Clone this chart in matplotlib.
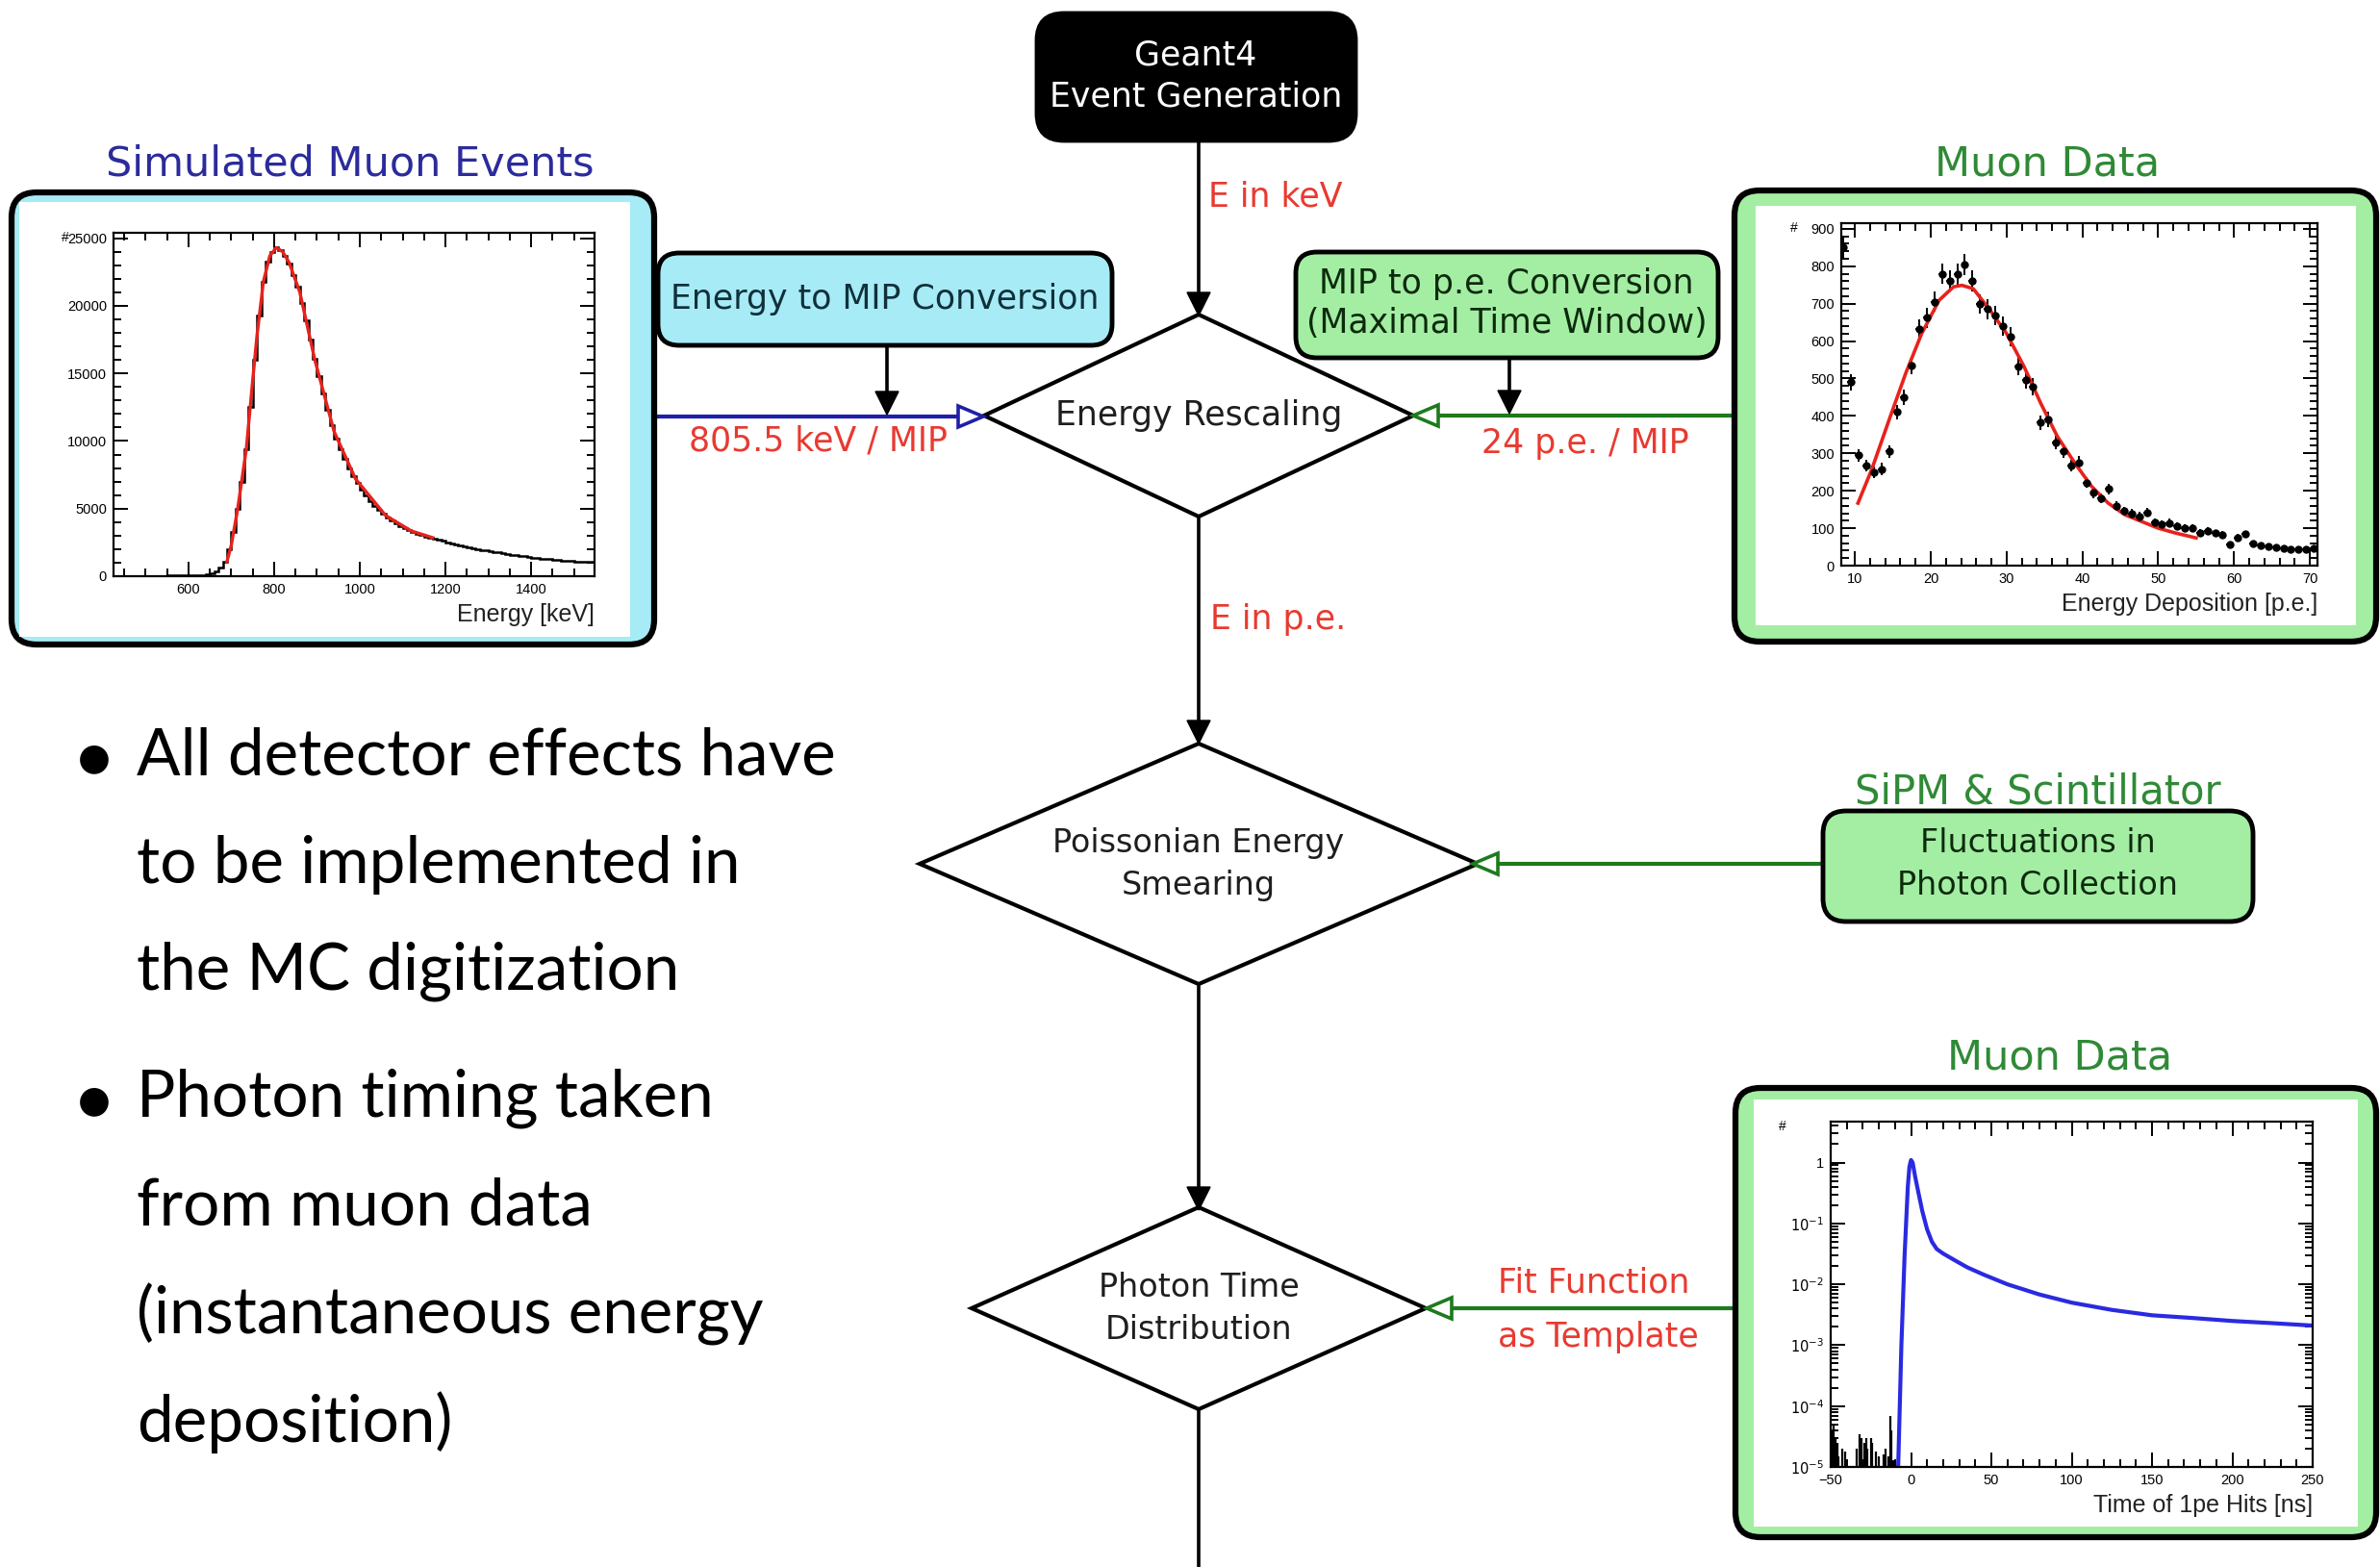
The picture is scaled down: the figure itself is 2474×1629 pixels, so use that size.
import numpy as np
import matplotlib
matplotlib.use('agg')
import matplotlib.pyplot as plt
from matplotlib.patches import FancyBboxPatch, Polygon, Rectangle
from matplotlib.ticker import MultipleLocator, LogLocator, NullFormatter, FixedLocator, FixedFormatter

W, H = 2474, 1629

# Simulated muon energy deposition (keV), 10 keV bins starting at 420 keV
sim_counts = [0, 0, 0, 0, 0, 0, 0, 0, 0, 0, 0, 0,
              30, 40, 40, 50, 50, 60, 60, 70, 80, 90, 110, 180, 350, 650,
              1100, 2000, 3300, 5000, 7000, 9400, 12500, 16000, 19300, 21800,
              23300, 24000, 24300, 24100, 23700, 23100, 22300, 21400, 20200,
              18900, 17500, 16100, 14800, 13500, 12300, 11200, 10200, 9400,
              8700, 8000, 7400, 6900, 6400, 5950, 5550, 5200, 4900, 4600,
              4350, 4100, 3900, 3700, 3550, 3400, 3250, 3150, 3050, 2950,
              2880, 2800, 2700, 2600, 2500, 2430, 2350, 2280, 2200, 2130,
              2060, 2000, 1950, 1900, 1850, 1800, 1750, 1700, 1650, 1600,
              1550, 1500, 1460, 1420, 1380, 1350, 1310, 1280, 1250, 1220,
              1190, 1170, 1140, 1120, 1100, 1090, 1070, 1060, 1050, 1040]
sim_fit_x = [690, 700, 715, 735, 750, 760, 775, 790, 805, 820, 835, 860,
             895, 940, 990, 1060, 1120, 1170]
sim_fit_y = [1100, 2300, 5000, 9400, 14500, 17800, 21800, 23700, 24300,
             24000, 23200, 21000, 16000, 10700, 7200, 4500, 3350, 2850]

# Muon data, energy deposition in p.e.
dep_x = np.arange(8.5, 71, 1.0)
dep_y = [850, 490, 295, 268, 250, 258, 305, 410, 450, 535, 632, 662, 705,
         780, 762, 778, 805, 760, 700, 685, 668, 640, 612, 532, 495, 478,
         382, 390, 330, 305, 268, 275, 222, 195, 180, 205, 160, 146, 140,
         132, 142, 115, 110, 114, 106, 100, 100, 88, 92, 87, 83, 57, 75, 84,
         58, 53, 52, 48, 47, 44, 43, 43, 46]
dep_err = [29, 22, 17, 16, 16, 16, 17, 20, 21, 23, 25, 26, 27, 28, 28, 28,
           28, 28, 26, 26, 26, 25, 25, 23, 22, 22, 20, 20, 18, 17, 16, 17,
           15, 14, 13, 14, 13, 12, 12, 11, 12, 11, 10, 11, 10, 10, 10, 9, 10,
           9, 9, 8, 9, 9, 8, 7, 7, 7, 7, 7, 7, 7, 7]
dep_fit_x = [10.4, 12.2, 14.5, 16.7, 18.8, 21.1, 23.0, 24.1, 25.6, 27.8,
             30.0, 32.3, 34.5, 36.7, 39.0, 41.2, 43.4, 45.6, 47.8, 50.0,
             52.3, 55.0]
dep_fit_y = [167, 256, 389, 514, 620, 709, 745, 749, 740, 683, 620, 532,
             434, 345, 274, 212, 167, 136, 118, 100, 87, 74]

# Muon data, photon arrival time of 1 p.e. hits (ns)
time_x = [-8, -6, -4, -2, -1, 0, 1, 2.5, 4.5, 7, 10, 13, 16, 20, 27, 35, 45,
          60, 80, 100, 125, 150, 175, 200, 225, 250]
time_y = [1e-5, 1e-3, 0.03, 0.4, 0.85, 1.1, 1.0, 0.6, 0.33, 0.16, 0.08,
          0.05, 0.038, 0.032, 0.025, 0.019, 0.0145, 0.0100, 0.0068, 0.0050,
          0.0038, 0.0031, 0.0028, 0.0025, 0.0023, 0.0021]
noise_x = [-49, -48, -47, -46, -45, -43, -41, -34, -32, -31, -29, -28, -27,
           -25, -24, -22, -20, -17, -16, -14, -13, -12, -11]
noise_y = [4e-5, 5e-5, 3e-5, 2.5e-5, 1.5e-5, 2e-5, 1.8e-5, 2e-5, 3.5e-5,
           3e-5, 2.5e-5, 3e-5, 2e-5, 3e-5, 2.5e-5, 1.8e-5, 1.5e-5, 1.6e-5,
           2e-5, 1.5e-5, 7e-5, 4e-5, 1.3e-5]

bullets = [
    ['All detector effects have', 'to be implemented in',
     'the MC digitization'],
    ['Photon timing taken', 'from muon data', '(instantaneous energy',
     'deposition)'],
]

RED = '#e83a30'
GREEN_TXT = '#2f8a35'
GREEN_LINE = '#1d7a1d'
BLUE_LINE = '#1f1fa8'
CYAN = '#a6ebf5'
LGREEN = '#a3eea3'
INK = '#1e1e1e'

fig = plt.figure(figsize=(W / 100, H / 100), dpi=100)
ax = fig.add_axes([0, 0, 1, 1])
ax.set_xlim(0, W)
ax.set_ylim(H, 0)
ax.axis('off')

FLOW = 'DejaVu Sans'
FS = 25


def rbox(x0, y0, x1, y1, fc, r=22, lw=3.5, ec='black', z=2):
    p = FancyBboxPatch((x0, y0), x1 - x0, y1 - y0,
                       boxstyle='round,pad=0,rounding_size=%d' % r,
                       fc=fc, ec=ec, lw=lw, zorder=z)
    ax.add_patch(p)


def diamond(cx, cy, hw, hh):
    pts = [(cx, cy - hh), (cx + hw, cy), (cx, cy + hh), (cx - hw, cy)]
    ax.add_patch(Polygon(pts, closed=True, fc='white', ec='black', lw=3,
                         zorder=2))


def down_arrow(x, y0, y1, lw=2.6, head=24, hw=12):
    ax.plot([x, x], [y0, y1 - head], color='black', lw=lw, zorder=1,
            solid_capstyle='butt')
    ax.add_patch(Polygon([(x - hw, y1 - head), (x + hw, y1 - head), (x, y1)],
                         closed=True, fc='black', ec='black', lw=1, zorder=3))


def open_head(tip, y, direction, color, length=26, hh=11):
    base = tip - direction * length
    ax.add_patch(Polygon([(base, y - hh), (base, y + hh), (tip, y)],
                         closed=True, fc='white', ec=color, lw=2.6, zorder=3))


def label(x, y, s, size=FS, color=INK, ha='center'):
    ax.text(x, y, s, fontsize=size, family=FLOW, ha=ha, va='center',
            color=color, zorder=4)


# Geant4 start node
rbox(1078, 14, 1409, 146, 'black', r=28)
label(1243, 57, 'Geant4', color='white')
label(1243, 100, 'Event Generation', color='white')

# main vertical chain
down_arrow(1246, 146, 328)
label(1256, 204, 'E in keV', color=RED, ha='left')
diamond(1246, 432, 223, 105)
label(1246, 432, 'Energy Rescaling')

down_arrow(1246, 537, 773)
label(1258, 644, 'E in p.e.', color=RED, ha='left')
diamond(1246, 898, 290, 125)
label(1246, 876, 'Poissonian Energy', size=24)
label(1246, 920, 'Smearing', size=24)

down_arrow(1246, 1023, 1258)
diamond(1246, 1360, 236, 105)
label(1246, 1338, 'Photon Time', size=24)
label(1246, 1382, 'Distribution', size=24)
ax.plot([1246, 1246], [1465, H + 5], color='black', lw=2.6, zorder=1)

# energy to MIP conversion branch (simulation side)
ax.plot([680, 996], [433, 433], color=BLUE_LINE, lw=3, zorder=1)
open_head(1022, 433, 1, BLUE_LINE)
rbox(684, 263, 1156, 359, CYAN, r=22)
label(920, 311, 'Energy to MIP Conversion', color='#10303a')
down_arrow(922, 359, 431)
label(850, 458, '805.5 keV / MIP', color=RED)

# MIP to p.e. conversion branch (data side)
ax.plot([1494, 1804], [432, 432], color=GREEN_LINE, lw=3, zorder=1)
open_head(1469, 432, -1, GREEN_LINE)
rbox(1347, 262, 1786, 372, LGREEN, r=22)
label(1566, 295, 'MIP to p.e. Conversion', color='#0d2a0d')
label(1566, 336, '(Maximal Time Window)', color='#0d2a0d')
down_arrow(1569, 372, 430)
label(1648, 461, '24 p.e. / MIP', color=RED)

# SiPM fluctuations branch
ax.plot([1556, 1896], [898, 898], color=GREEN_LINE, lw=3, zorder=1)
open_head(1531, 898, -1, GREEN_LINE)
rbox(1895, 843, 2342, 958, LGREEN, r=24)
label(2118, 823, 'SiPM & Scintillator', size=30, color=GREEN_TXT)
label(2118, 876, 'Fluctuations in', size=24, color='#0d2a0d')
label(2118, 920, 'Photon Collection', size=24, color='#0d2a0d')

# timing template branch
ax.plot([1508, 1805], [1360, 1360], color=GREEN_LINE, lw=3, zorder=1)
open_head(1483, 1360, -1, GREEN_LINE)
label(1557, 1333, 'Fit Function', color=RED, ha='left')
label(1557, 1390, 'as Template', color=RED, ha='left')

# panel frames around the histograms
rbox(12, 200, 680, 670, CYAN, r=26, lw=4.5)
ax.add_patch(Rectangle((20, 210), 635, 452, fc='white', ec='none', zorder=2))
label(364, 170, 'Simulated Muon Events', size=31, color='#2b2b9c')

rbox(1803, 198, 2470, 667, LGREEN, r=26, lw=4.5)
ax.add_patch(Rectangle((1825, 214), 624, 436, fc='white', ec='none',
                       zorder=2))
label(2128, 170, 'Muon Data', size=31, color=GREEN_TXT)

rbox(1804, 1131, 2470, 1598, LGREEN, r=26, lw=4.5)
ax.add_patch(Rectangle((1823, 1143), 628, 444, fc='white', ec='none',
                       zorder=2))
label(2141, 1100, 'Muon Data', size=31, color=GREEN_TXT)

# bullet list
TXT = 'Lato'
ys = [[786, 899, 1010], [1142, 1254, 1366, 1479]]
for lines, yy in zip(bullets, ys):
    ax.text(98, yy[0] + 2, '\u25cf', fontsize=28, family='DejaVu Sans',
            ha='center', va='center', color='black')
    for s, y in zip(lines, yy):
        ax.text(142, y, s, fontsize=48.5, family=TXT, ha='left',
                va='center', color='black')


PLOT = 'Liberation Sans'


def inset(x0, y0, x1, y1):
    a = fig.add_axes([x0 / W, 1 - y1 / H, (x1 - x0) / W, (y1 - y0) / H])
    a.set_zorder(5)
    for sp in a.spines.values():
        sp.set_linewidth(1.6)
    a.tick_params(which='both', direction='in', top=True, right=True,
                  labelsize=10.5, width=1.4, pad=5)
    a.tick_params(which='major', length=11)
    a.tick_params(which='minor', length=6)
    a.text(-0.1, 0.985, '#', transform=a.transAxes, fontsize=10,
           ha='center', va='center', family=PLOT)
    return a


def finish(a, xlabel):
    a.set_xlabel(xlabel, fontsize=18, family=PLOT, loc='right', labelpad=5,
                 color='#222222')
    for lab in a.get_xticklabels() + a.get_yticklabels():
        lab.set_family(PLOT)


# simulated energy spectrum
a1 = inset(118, 242, 618, 599)
sim_edges = 420 + 10 * np.arange(len(sim_counts) + 1)
a1.stairs(sim_counts, sim_edges, color='black', lw=1.8)
a1.plot(sim_fit_x, sim_fit_y, color='#e8221c', lw=2.4)
a1.set_xlim(425, 1548)
a1.set_ylim(0, 25400)
a1.xaxis.set_major_locator(MultipleLocator(200))
a1.xaxis.set_minor_locator(MultipleLocator(50))
a1.yaxis.set_major_locator(MultipleLocator(5000))
a1.yaxis.set_minor_locator(MultipleLocator(1000))
finish(a1, 'Energy [keV]')

# measured energy deposition with fit
a2 = inset(1914, 232, 2409, 588)
a2.errorbar(dep_x, dep_y, yerr=dep_err, xerr=0.5, fmt='o', ms=5,
            color='black', elinewidth=1.4, capsize=0)
a2.plot(dep_fit_x, dep_fit_y, color='#e8221c', lw=2.6)
a2.set_xlim(8.2, 71)
a2.set_ylim(0, 915)
a2.xaxis.set_major_locator(MultipleLocator(10))
a2.xaxis.set_minor_locator(MultipleLocator(2))
a2.yaxis.set_major_locator(MultipleLocator(100))
a2.yaxis.set_minor_locator(MultipleLocator(20))
finish(a2, 'Energy Deposition [p.e.]')

# photon timing template
a3 = inset(1903, 1166, 2404, 1525)
a3.set_yscale('log')
a3.vlines(noise_x, 1e-5, noise_y, color='black', lw=1.6)
a3.plot(time_x, time_y, color='#2a2ae0', lw=3)
a3.set_xlim(-50, 250)
a3.set_ylim(1e-5, 4.7)
a3.xaxis.set_major_locator(MultipleLocator(50))
a3.xaxis.set_minor_locator(MultipleLocator(10))
a3.yaxis.set_major_locator(FixedLocator([1e-5, 1e-4, 1e-3, 1e-2, 1e-1, 1]))
a3.yaxis.set_major_formatter(FixedFormatter(
    [r'$10^{-5}$', r'$10^{-4}$', r'$10^{-3}$', r'$10^{-2}$', r'$10^{-1}$',
     '1']))
a3.yaxis.set_minor_locator(LogLocator(subs=np.arange(2, 10)))
a3.yaxis.set_minor_formatter(NullFormatter())
finish(a3, 'Time of 1pe Hits [ns]')

fig.savefig('out.png', dpi=100, facecolor='white')
